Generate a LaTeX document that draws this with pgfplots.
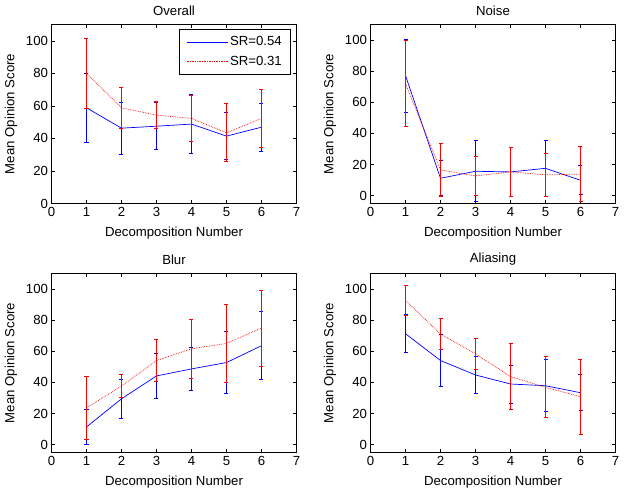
\documentclass[border=0pt]{standalone}
\usepackage{fontspec}
\setmainfont{Liberation Sans}
\usepackage{pgfplots}
\usepackage{pgfplotstable}
\pgfplotsset{compat=1.18}
\definecolor{mblue}{RGB}{0,0,255}
\definecolor{mred}{RGB}{255,0,0}
\newcommand{\mfont}{\fontsize{13.2}{15}\selectfont}
% x mean sd
\pgfplotstableread{
x y e
1 58.8 21.3
2 46.3 16
3 47.5 14.3
4 48.8 18
5 41.4 14.4
6 46.9 14.7
}\OvB
\pgfplotstableread{
x y e
1 80 21.5
2 58.8 12.7
3 54.3 8.4
4 52.3 14.2
5 43.4 17.8
6 52.3 17.7
}\OvR
\pgfplotstableread{
x y e
1 77.2 23.5
2 11.2 11.2
3 15.7 19.5
4 15.3 15.8
5 17.6 18
6 9.9 9.4
}\NoB
\pgfplotstableread{
x y e
1 72 27.6
2 16.6 17
3 12.7 12.6
4 15.3 16
5 13.4 13.7
6 13.9 17.8
}\NoR
\pgfplotstableread{
x y e
1 11.4 11.3
2 29.5 12.7
3 44.2 14.7
4 48.7 13.8
5 52.8 19.9
6 63.6 21.9
}\BlB
\pgfplotstableread{
x y e
1 23.7 20.4
2 37.7 7.3
3 54.1 13.5
4 61.6 19.1
5 65.1 25
6 75 24.4
}\BlR
\pgfplotstableread{
x y e
1 71.3 12.2
2 54.1 16.9
3 44.8 11.9
4 39 12.2
5 37.9 16.8
6 33.4 11.6
}\AlB
\pgfplotstableread{
x y e
1 92.7 9.8
2 71.1 10.2
3 58.4 9.8
4 43.8 21.4
5 36.9 19.5
6 30.8 24.1
}\AlR
\pgfplotsset{
 mstyle/.style={
  scale only axis, width=245pt, height=179pt,
  xmin=0, xmax=7, ymax=110,
  xtick={0,...,7}, ytick={0,20,...,100},
  tick align=inside, major tick length=3.5pt,
  /pgf/number format/assume math mode=true,
  tick label style={font=\mfont},
  label style={font=\mfont},
  title style={font=\mfont, at={(axis description cs:0.5,1.078)}, anchor=center, yshift=-6pt},
  xlabel style={at={(axis description cs:0.5,-0.168)}, anchor=center},
  ylabel style={at={(axis description cs:-0.165,0.5)}, anchor=center},
  xlabel={Decomposition Number}, ylabel={Mean Opinion Score},
  axis line style={line width=0.5pt},
  every tick/.style={black, line width=0.5pt},
 },
}
\newcommand{\errs}[2]{%
 \addplot[forget plot, draw=none, mark=none,
   error bars/.cd, y dir=both, y explicit,
   error bar style={draw=#2, solid, line width=0.9pt},
   error mark options={rotate=90, draw=#2, solid, mark size=2pt, line width=0.9pt}]
   table[x=x, y=y, y error=e] {#1};}
\newcommand{\lineB}[1]{\addplot[draw=mblue, solid, line width=0.7pt, mark=none] table[x=x, y=y] {#1};}
\newcommand{\lineR}[1]{\addplot[draw=mred, densely dotted, line width=0.7pt, mark=none] table[x=x, y=y] {#1};}
\begin{document}
\begin{tikzpicture}[x=1pt,y=1pt]
\useasboundingbox (0,0) rectangle (624,495);
% Overall
\begin{axis}[mstyle, at={(51.5pt,291.5pt)}, anchor=south west, ymin=0, title={Overall},
  legend style={at={(rel axis cs:1,1)}, anchor=north east, xshift=-5.5pt, yshift=-4.5pt,
    draw=black, line width=0.5pt, font=\mfont, inner xsep=7pt, inner ysep=5.5pt, row sep=5pt},
  legend cell align=left,
  legend image code/.code={\draw[#1] (0pt,0pt) -- (41pt,0pt);}]
\lineB{\OvB}\addlegendentry{SR=0.54}
\lineR{\OvR}\addlegendentry{SR=0.31}
\errs{\OvB}{mblue}
\errs{\OvR}{mred}
\end{axis}
% Noise
\begin{axis}[mstyle, at={(370.5pt,291.5pt)}, anchor=south west, ymin=-5, title={Noise}]
\lineB{\NoB}\lineR{\NoR}
\errs{\NoB}{mblue}\errs{\NoR}{mred}
\end{axis}
% Blur
\begin{axis}[mstyle, at={(51.5pt,42.5pt)}, anchor=south west, ymin=-5, title={Blur}]
\lineB{\BlB}\lineR{\BlR}
\errs{\BlB}{mblue}\errs{\BlR}{mred}
\end{axis}
% Aliasing
\begin{axis}[mstyle, at={(370.5pt,42.5pt)}, anchor=south west, ymin=-5, title={Aliasing}]
\lineB{\AlB}\lineR{\AlR}
\errs{\AlB}{mblue}\errs{\AlR}{mred}
\end{axis}
\end{tikzpicture}
\end{document}
